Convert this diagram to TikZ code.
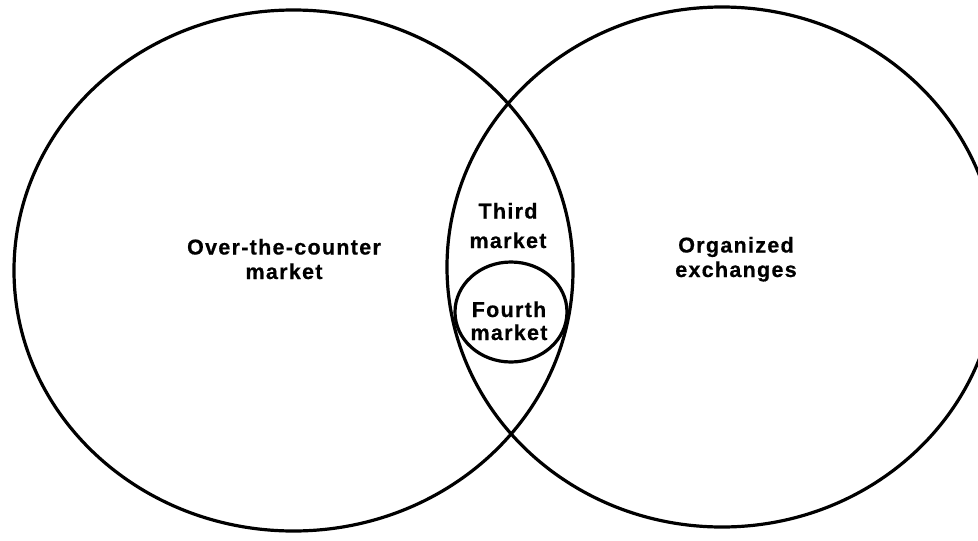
\documentclass[tikz,border=0pt]{standalone}
\usepackage{fontspec}
\setmainfont{Liberation Sans}[BoldFeatures={FakeBold=0.6}]
\begin{document}
\begin{tikzpicture}[x=1pt,y=-1pt,
  lbl/.style={font=\fontsize{21.5}{24.5}\selectfont\bfseries\addfontfeature{LetterSpace=6},
              align=center, inner sep=0pt, anchor=base},
  ring/.style={draw=black, line width=3.2pt}]
\useasboundingbox (0,0) rectangle (978,541);
\clip (0,0) rectangle (978,541);
\fill[white] (0,0) rectangle (978,541);
\coordinate (otc) at (293.5,270.5);
\coordinate (org) at (722,267);
\coordinate (fourth) at (511,312);
\draw[ring] (otc) ellipse [x radius=279.5, y radius=260.5];
\draw[ring] (org) ellipse [x radius=275, y radius=260];
\draw[ring] (fourth) ellipse [x radius=56, y radius=50];
\node[lbl] (totc) at (284,279) {Over-the-counter\\market};
\node[lbl] (torg) at (736,277) {Organized\\exchanges};
\node[lbl] (tthird) at (508,248) {Third\\[5pt]market};
\node[lbl] (tfourth) at (509,340) {Fourth\\[-1.5pt]market};
\end{tikzpicture}
\end{document}
